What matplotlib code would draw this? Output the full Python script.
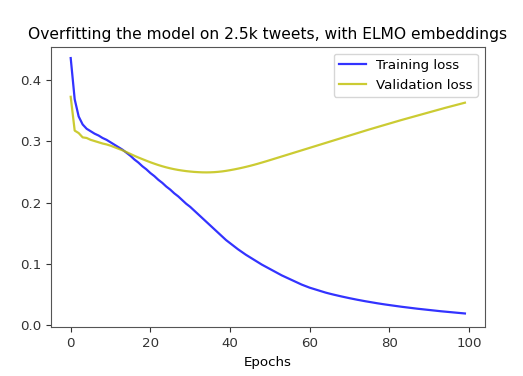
import numpy as np
import matplotlib
matplotlib.use("Agg")
import matplotlib.pyplot as plt

# loss values, one per epoch (0..99)
train_loss = [
    0.435, 0.368, 0.340, 0.327, 0.320, 0.316, 0.312, 0.309, 0.305, 0.302,
    0.298, 0.294, 0.290, 0.286, 0.281, 0.276, 0.270, 0.265, 0.259, 0.254,
    0.248, 0.243, 0.237, 0.232, 0.226, 0.221, 0.215, 0.210, 0.204, 0.198,
    0.193, 0.187, 0.181, 0.175, 0.169, 0.163, 0.157, 0.151, 0.145, 0.139,
    0.134, 0.129, 0.124, 0.1195, 0.115, 0.111, 0.107, 0.103, 0.099, 0.0955,
    0.092, 0.0885, 0.085, 0.0815, 0.0785, 0.0755, 0.0725, 0.0695, 0.0665, 0.064,
    0.0615, 0.0595, 0.0575, 0.0555, 0.0535, 0.0518, 0.0502, 0.0487, 0.0472, 0.0458,
    0.0444, 0.0431, 0.0418, 0.0406, 0.0394, 0.0383, 0.0372, 0.0361, 0.0351, 0.0341,
    0.0332, 0.0323, 0.0314, 0.0305, 0.0297, 0.0289, 0.0281, 0.0273, 0.0266, 0.0259,
    0.0252, 0.0245, 0.0238, 0.0231, 0.0225, 0.0219, 0.0213, 0.0207, 0.0201, 0.0195,
]
val_loss = [
    0.372, 0.317, 0.313, 0.306, 0.305, 0.302, 0.300, 0.298, 0.296, 0.2945,
    0.2925, 0.290, 0.2875, 0.285, 0.282, 0.279, 0.276, 0.2732, 0.2706, 0.268,
    0.2655, 0.2632, 0.261, 0.259, 0.2572, 0.2556, 0.2542, 0.253, 0.252, 0.2511,
    0.2504, 0.2498, 0.2494, 0.2491, 0.249, 0.2491, 0.2494, 0.2499, 0.2506, 0.2515,
    0.2526, 0.2538, 0.2551, 0.2565, 0.258, 0.2596, 0.2613, 0.2631, 0.265, 0.2669,
    0.2689, 0.2709, 0.2729, 0.2749, 0.2769, 0.2789, 0.2809, 0.2829, 0.2849, 0.2869,
    0.2889, 0.2909, 0.2929, 0.2949, 0.2969, 0.2989, 0.3009, 0.3029, 0.3049, 0.3069,
    0.3089, 0.3109, 0.3129, 0.3149, 0.3169, 0.3189, 0.3208, 0.3227, 0.3246, 0.3265,
    0.3284, 0.3303, 0.3322, 0.3341, 0.3359, 0.3377, 0.3395, 0.3413, 0.3431, 0.3449,
    0.3467, 0.3485, 0.3503, 0.3521, 0.3539, 0.3556, 0.3573, 0.359, 0.3607, 0.3624,
]
epochs = np.arange(len(train_loss))

fig = plt.figure(figsize=(5.23, 3.76), dpi=100)
ax = fig.add_axes([0.0975, 0.1295, 0.8295, 0.7455])

ax.plot(epochs, train_loss, color='b', alpha=0.8, linewidth=1.6, label='Training loss')
ax.plot(epochs, val_loss, color='y', alpha=0.8, linewidth=1.6, label='Validation loss')

ax.set_title('Overfitting the model on 2.5k tweets, with ELMO embeddings', fontsize=11.2)
ax.set_xlabel('Epochs', fontsize=9.6)
ax.set_xticks([0, 20, 40, 60, 80, 100])
ax.set_yticks([0.0, 0.1, 0.2, 0.3, 0.4])
ax.set_ylim(-0.003, 0.453)
ax.set_xlim(-4.95, 104)
ax.tick_params(labelsize=9.6, colors='#333333')
for s in ax.spines.values():
    s.set_color('#555555')
ax.legend(loc='upper right', fontsize=9.6)

fig.savefig('out.png', dpi=100)
